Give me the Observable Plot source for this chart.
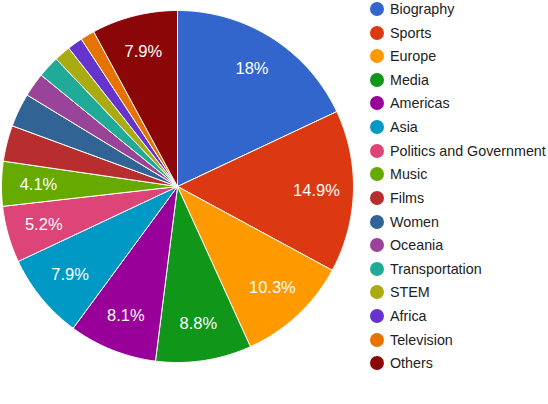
<!DOCTYPE html>
<html><head><meta charset="utf-8">
<script src="https://cdn.jsdelivr.net/npm/d3@7"></script>
<script src="https://cdn.jsdelivr.net/npm/@observablehq/plot@0.6"></script>
<style>
body{margin:0;background:#fff;}
#wrap{position:relative;width:548px;height:404px;font-family:Arial,"Liberation Sans",sans-serif;overflow:hidden;}
#chart{position:absolute;left:0;top:0;}
#legend{position:absolute;left:0;top:0;}
.item{position:absolute;left:370px;height:16px;display:flex;align-items:center;font-size:14.3px;color:#222;white-space:nowrap;}
.sw{width:14px;height:14px;border-radius:50%;margin-right:6px;flex:none;}
</style></head><body>
<div id="wrap"><div id="chart"></div><div id="legend"></div></div>
<script>
const categories = ["Biography","Sports","Europe","Media","Americas","Asia","Politics and Government","Music","Films","Women","Oceania","Transportation","STEM","Africa","Television","Others"];
const values = [18, 14.9, 10.3, 8.8, 8.1, 7.9, 5.2, 4.1, 3.3, 3.1, 2.2, 2.0, 1.5, 1.4, 1.3, 7.9];
const colors = ["#3366cc","#dc3912","#ff9900","#109618","#990099","#0099c6","#dd4477","#66aa00","#b82e2e","#316395","#994499","#22aa99","#aaaa11","#6633cc","#e67300","#8b0707"];

const total = d3.sum(values);
const slicePts = [];
const labelData = [];
let cum = 0;
categories.forEach((cat, i) => {
  const a0 = cum / total * 2 * Math.PI;
  cum += values[i];
  const a1 = cum / total * 2 * Math.PI;
  slicePts.push({cat, x: 0, y: 0});
  const n = Math.max(2, Math.ceil((a1 - a0) / (Math.PI / 360)));
  for (let k = 0; k <= n; k++) {
    const a = a0 + (a1 - a0) * k / n;
    slicePts.push({cat, x: Math.sin(a), y: Math.cos(a)});
  }
  slicePts.push({cat, x: 0, y: 0});
  if (values[i] >= 4) {
    const am = (a0 + a1) / 2, r = 0.79;
    labelData.push({cat, x: r * Math.sin(am), y: r * Math.cos(am), label: values[i] + "%"});
  }
});

const R = 176, cx = 177, cy = 186, W = 360, H = 404;
const chart = Plot.plot({
  width: W, height: H, margin: 0,
  style: {fontFamily: "Arial, 'Liberation Sans', sans-serif", background: "#fff"},
  x: {domain: [-cx / R, (W - cx) / R], axis: null},
  y: {domain: [-(H - cy) / R, cy / R], axis: null},
  color: {domain: categories, range: colors},
  marks: [
    Plot.line(slicePts, {x: "x", y: "y", z: "cat", fill: "cat", stroke: "white", strokeWidth: 1, strokeLinejoin: "round"}),
    Plot.text(labelData, {x: "x", y: "y", text: "label", fill: "white", fontSize: 16.5})
  ]
});
document.getElementById("chart").appendChild(chart);

const legend = document.getElementById("legend");
categories.forEach((cat, i) => {
  const it = document.createElement("div");
  it.className = "item";
  it.style.top = (9 + i * 23.62 - 8) + "px";
  const sw = document.createElement("span");
  sw.className = "sw";
  sw.style.background = colors[i];
  const tx = document.createElement("span");
  tx.textContent = cat;
  it.appendChild(sw); it.appendChild(tx);
  legend.appendChild(it);
});
</script>
</body></html>
